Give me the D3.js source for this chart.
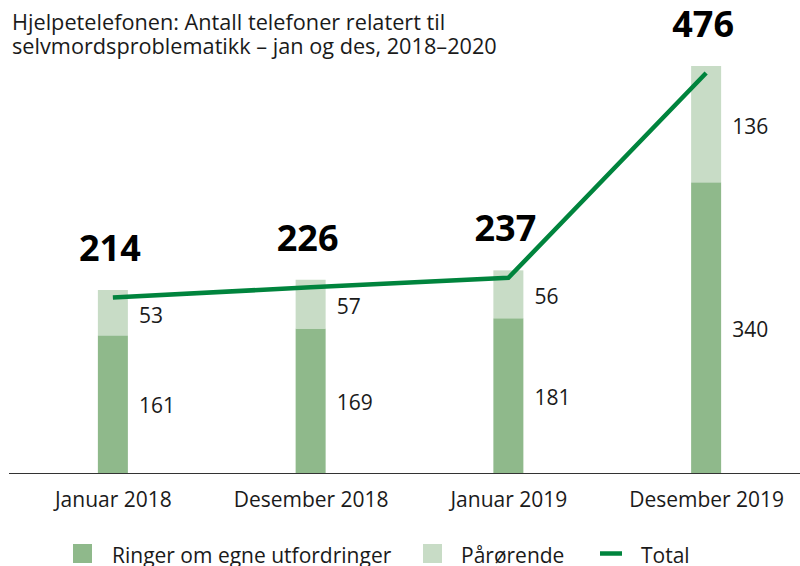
<!DOCTYPE html>
<html>
<head>
<meta charset="utf-8">
<script src="https://cdn.jsdelivr.net/npm/d3@7"></script>
<style>
  body { margin: 0; background: #fff; }
  svg text { font-family: "Open Sans", "Noto Sans", sans-serif; fill: #1a1a1a; }
</style>
</head>
<body>
<div id="chart"></div>
<script>
// data
var categories = ["Januar 2018", "Desember 2018", "Januar 2019", "Desember 2019"];
var egne = [161, 169, 181, 340];
var parorende = [53, 57, 56, 136];
var total = [214, 226, 237, 476];

var seriesNames = ["Ringer om egne utfordringer", "Pårørende", "Total"];

var colEgne = "#8fb98b",
    colPar = "#c8dcc6",
    colLine = "#00843d";

var width = 800, height = 566;

var svg = d3.select("#chart").append("svg")
    .attr("width", width)
    .attr("height", height);

// title
var title = svg.append("text")
    .attr("x", 12)
    .attr("y", 30)
    .style("font-size", "21.7px");
title.append("tspan").attr("x", 12).text("Hjelpetelefonen: Antall telefoner relatert til");
title.append("tspan").attr("x", 12).attr("dy", 24).text("selvmordsproblematikk – jan og des, 2018–2020");

// scales
var x = d3.scalePoint()
    .domain(categories)
    .range([14, 805])
    .padding(0.5);

var y = d3.scaleLinear()
    .domain([0, 476])
    .range([473, 66]);

// line sits a little lower than the bar tops
var yLine = d3.scaleLinear()
    .domain([0, 476])
    .range([481, 73]);

var barW = 30;

var rows = categories.map(function(c, i) {
    return {cat: c, egne: egne[i], par: parorende[i], total: total[i]};
});

// bars
var bars = svg.append("g");

bars.selectAll("rect.egne")
    .data(rows)
    .enter().append("rect")
    .attr("class", "egne")
    .attr("x", function(d) { return x(d.cat) - barW / 2; })
    .attr("width", barW)
    .attr("y", function(d) { return y(d.egne); })
    .attr("height", function(d) { return y(0) - y(d.egne); })
    .style("fill", colEgne);

bars.selectAll("rect.par")
    .data(rows)
    .enter().append("rect")
    .attr("class", "par")
    .attr("x", function(d) { return x(d.cat) - barW / 2; })
    .attr("width", barW)
    .attr("y", function(d) { return y(d.egne + d.par); })
    .attr("height", function(d) { return y(d.egne) - y(d.egne + d.par); })
    .style("fill", colPar);

// segment labels
bars.selectAll("text.lblEgne")
    .data(rows)
    .enter().append("text")
    .attr("class", "lblEgne")
    .attr("x", function(d) { return x(d.cat) + 26; })
    .attr("y", function(d) { return (y(0) + y(d.egne)) / 2 + 9; })
    .style("font-size", "21px")
    .text(function(d) { return d.egne; });

bars.selectAll("text.lblPar")
    .data(rows)
    .enter().append("text")
    .attr("class", "lblPar")
    .attr("x", function(d) { return x(d.cat) + 26; })
    .attr("y", function(d) { return (y(d.egne) + y(d.egne + d.par)) / 2 + 10; })
    .style("font-size", "21px")
    .text(function(d) { return d.par; });

// axis
svg.append("line")
    .attr("x1", 9).attr("x2", 800)
    .attr("y1", y(0) + 0.5).attr("y2", y(0) + 0.5)
    .style("stroke", "#333")
    .style("stroke-width", 1);

var xAxis = svg.append("g")
    .attr("transform", "translate(0," + y(0) + ")")
    .call(d3.axisBottom(x).tickSize(0).tickPadding(19));
xAxis.select(".domain").remove();
xAxis.selectAll("text")
    .style("font-size", "21px")
    .style("font-family", "'Open Sans', sans-serif")
    .style("fill", "#1a1a1a");

// total line
var line = d3.line()
    .x(function(d) { return x(d.cat); })
    .y(function(d) { return yLine(d.total); });

svg.append("path")
    .datum(rows)
    .attr("d", line)
    .style("fill", "none")
    .style("stroke", colLine)
    .style("stroke-width", 4.5);

// total labels
svg.selectAll("text.tot")
    .data(rows)
    .enter().append("text")
    .attr("class", "tot")
    .attr("x", function(d) { return x(d.cat) - 3; })
    .attr("y", function(d) { return y(d.total) - 29; })
    .attr("text-anchor", "middle")
    .style("font-size", "36px")
    .style("font-weight", "bold")
    .style("fill", "#000")
    .text(function(d) { return d.total; });

// legend
var legend = svg.append("g");
var lx = [73, 423, 600];
var tx = [112, 461, 641];

legend.append("rect").attr("x", lx[0]).attr("y", 544).attr("width", 19).attr("height", 19).style("fill", colEgne);
legend.append("rect").attr("x", lx[1]).attr("y", 544).attr("width", 19).attr("height", 19).style("fill", colPar);
legend.append("line").attr("x1", lx[2]).attr("x2", lx[2] + 22).attr("y1", 553.5).attr("y2", 553.5)
    .style("stroke", colLine).style("stroke-width", 4.5);

legend.selectAll("text")
    .data(seriesNames)
    .enter().append("text")
    .attr("x", function(d, i) { return tx[i]; })
    .attr("y", 563)
    .style("font-size", "21px")
    .text(function(d) { return d; });
</script>
</body>
</html>
